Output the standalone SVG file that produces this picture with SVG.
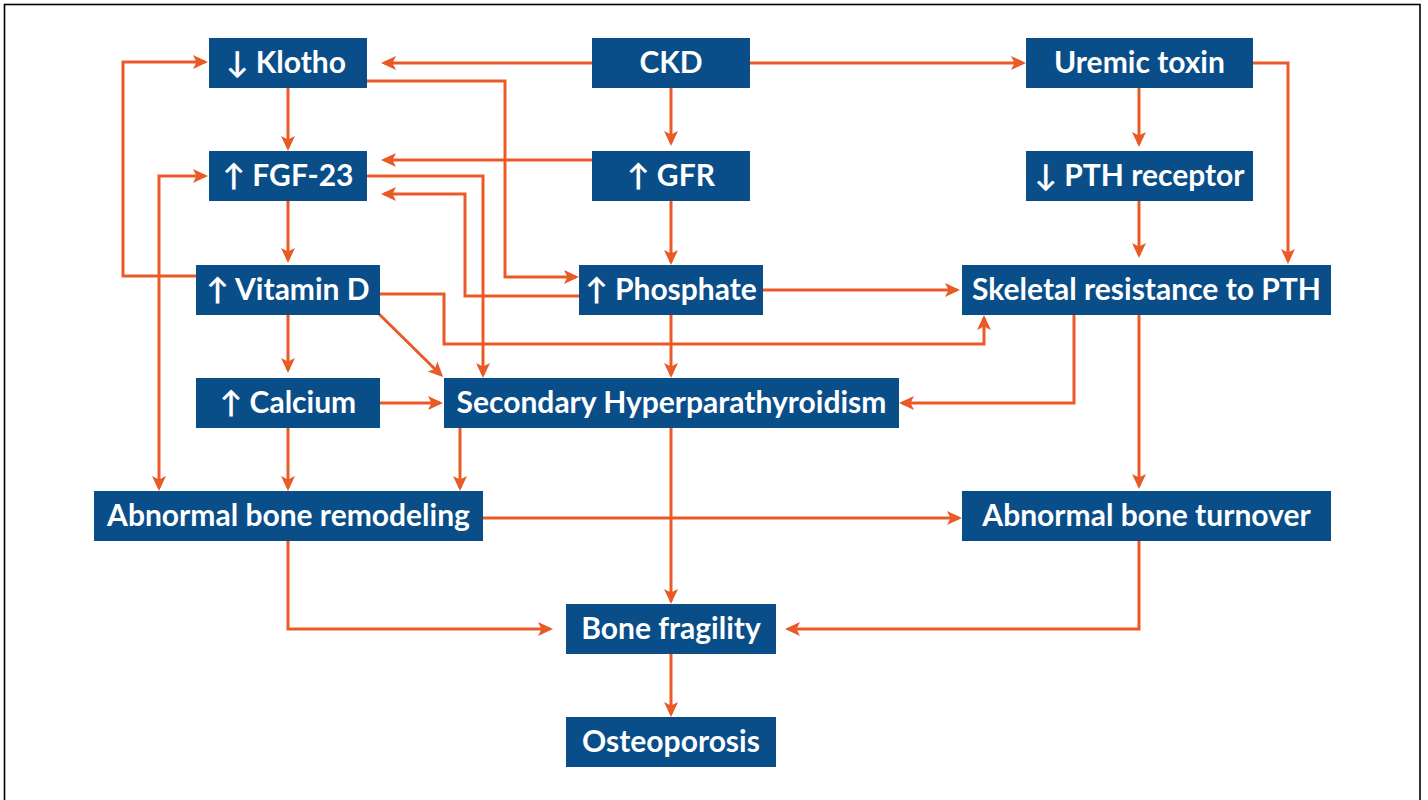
<svg xmlns="http://www.w3.org/2000/svg" width="1428" height="800" viewBox="0 0 1428 800">
  <style>
    .box { fill: #0a4e89; }
    .lbl { fill: #ffffff; font-family: Lato, "DejaVu Sans", sans-serif; font-weight: bold; font-size: 30px; text-anchor: middle; }
    .wire { fill: none; stroke: #e95a26; stroke-width: 3; marker-end: url(#arrow); }
    .both { marker-start: url(#arrowStart); }
  </style>
  <defs>
    <marker id="arrow" markerUnits="userSpaceOnUse" markerWidth="16" markerHeight="16" viewBox="0 0 16 16" refX="12" refY="7" orient="auto" overflow="visible">
      <path d="M0,0 L15,7 L0,14 L3.5,7 Z" fill="#e95a26"/>
    </marker>
    <marker id="arrowStart" markerUnits="userSpaceOnUse" markerWidth="16" markerHeight="16" viewBox="0 0 16 16" refX="12" refY="7" orient="auto-start-reverse" overflow="visible">
      <path d="M0,0 L15,7 L0,14 L3.5,7 Z" fill="#e95a26"/>
    </marker>
  </defs>

  <rect x="0" y="0" width="1428" height="800" fill="#ffffff"/>
  <rect x="4.5" y="4.5" width="1415.5" height="820" fill="none" stroke="#000000" stroke-width="1.6"/>

  <g id="connectors">
    <path class="wire" d="M592,63 H384"/>
    <path class="wire" d="M750,63 H1023"/>
    <path class="wire" d="M671,88 V143"/>
    <path class="wire" d="M592,160 H384"/>
    <path class="wire" d="M671,201 V262"/>
    <path class="wire" d="M367,81 H505 V277 H576"/>
    <path class="wire" d="M288,88 V148"/>
    <path class="wire" d="M288,201 V260"/>
    <path class="wire" d="M196,276 H123 V62 H205"/>
    <path class="wire" d="M367,176 H483 V375"/>
    <path class="wire" d="M579,296 H465 V194 H384"/>
    <path class="wire" d="M380,294 H444 V344 H984 V318"/>
    <path class="wire" d="M378,313 L441,375"/>
    <path class="wire" d="M288,315 V370"/>
    <path class="wire" d="M380,403 H440"/>
    <path class="wire both" d="M205,176 H159 V488"/>
    <path class="wire" d="M671,315 V375"/>
    <path class="wire" d="M763,290 H957"/>
    <path class="wire" d="M1074,315 V403 H902"/>
    <path class="wire" d="M1139,315 V486"/>
    <path class="wire" d="M1139,88 V144"/>
    <path class="wire" d="M1139,201 V255"/>
    <path class="wire" d="M1253,63 H1288 V261"/>
    <path class="wire" d="M460,428 V488"/>
    <path class="wire" d="M288,428 V488"/>
    <path class="wire" d="M483,518 H959"/>
    <path class="wire" d="M671,428 V601"/>
    <path class="wire" d="M288,541 V629 H550"/>
    <path class="wire" d="M1139,541 V629 H788"/>
    <path class="wire" d="M671,654 V714"/>
  </g>

  <g id="klotho"><rect class="box" x="209" y="38" width="158" height="50"/><text class="lbl" x="286" y="73">↓ Klotho</text></g>
  <g id="ckd"><rect class="box" x="592" y="38" width="158" height="50"/><text class="lbl" x="671" y="73">CKD</text></g>
  <g id="uremic-toxin"><rect class="box" x="1026" y="38" width="227" height="50"/><text class="lbl" x="1139.5" y="73">Uremic toxin</text></g>
  <g id="fgf23"><rect class="box" x="209" y="151" width="158" height="50"/><text class="lbl" x="288" y="186">↑ FGF-23</text></g>
  <g id="gfr"><rect class="box" x="592" y="151" width="158" height="50"/><text class="lbl" x="671" y="186">↑ GFR</text></g>
  <g id="pth-receptor"><rect class="box" x="1026" y="151" width="227" height="50"/><text class="lbl" x="1139.5" y="186">↓ PTH receptor</text></g>
  <g id="vitamin-d"><rect class="box" x="196" y="265" width="184" height="50"/><text class="lbl" x="288" y="300">↑ Vitamin D</text></g>
  <g id="phosphate"><rect class="box" x="579" y="265" width="184" height="50"/><text class="lbl" x="671" y="300">↑ Phosphate</text></g>
  <g id="skeletal-resistance"><rect class="box" x="962" y="265" width="369" height="50"/><text class="lbl" x="1146.5" y="300">Skeletal resistance to PTH</text></g>
  <g id="calcium"><rect class="box" x="196" y="378" width="184" height="50"/><text class="lbl" x="288" y="413">↑ Calcium</text></g>
  <g id="secondary-hpt"><rect class="box" x="444" y="378" width="455" height="50"/><text class="lbl" x="671.5" y="413">Secondary Hyperparathyroidism</text></g>
  <g id="bone-remodeling"><rect class="box" x="94" y="491" width="389" height="50"/><text class="lbl" x="288.5" y="526">Abnormal bone remodeling</text></g>
  <g id="bone-turnover"><rect class="box" x="962" y="491" width="369" height="50"/><text class="lbl" x="1146.5" y="526">Abnormal bone turnover</text></g>
  <g id="bone-fragility"><rect class="box" x="566" y="604" width="210" height="50"/><text class="lbl" x="671" y="639">Bone fragility</text></g>
  <g id="osteoporosis"><rect class="box" x="566" y="717" width="210" height="50"/><text class="lbl" x="671" y="752">Osteoporosis</text></g>
</svg>
